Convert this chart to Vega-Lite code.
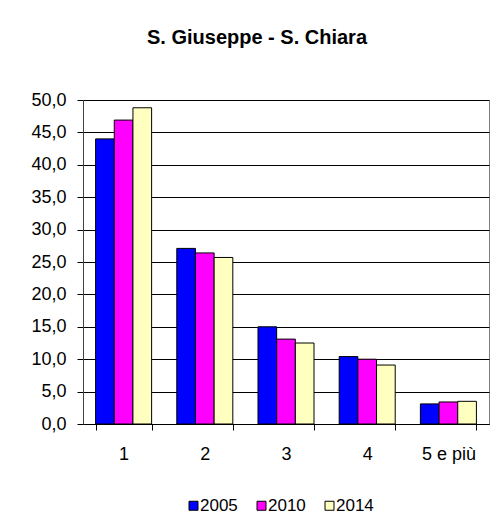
{
  "$schema": "https://vega.github.io/schema/vega-lite/v6.json",
  "autosize": {"type": "none"},
  "width": 406,
  "height": 324,
  "padding": {"left": 83, "top": 100, "right": 10, "bottom": 99},
  "background": "white",
  "title": {
    "text": "S. Giuseppe - S. Chiara",
    "font": "Liberation Sans",
    "fontSize": 20,
    "fontWeight": "bold",
    "color": "black",
    "anchor": "middle",
    "dx": -29,
    "offset": 43
  },
  "data": {
    "values": [
      {"cat": "1", "year": "2005", "value": 44.0},
      {"cat": "1", "year": "2010", "value": 46.9},
      {"cat": "1", "year": "2014", "value": 48.8},
      {"cat": "2", "year": "2005", "value": 27.1},
      {"cat": "2", "year": "2010", "value": 26.4},
      {"cat": "2", "year": "2014", "value": 25.7},
      {"cat": "3", "year": "2005", "value": 15.0},
      {"cat": "3", "year": "2010", "value": 13.1},
      {"cat": "3", "year": "2014", "value": 12.5},
      {"cat": "4", "year": "2005", "value": 10.4},
      {"cat": "4", "year": "2010", "value": 10.0},
      {"cat": "4", "year": "2014", "value": 9.1},
      {"cat": "5 e più", "year": "2005", "value": 3.1},
      {"cat": "5 e più", "year": "2010", "value": 3.4},
      {"cat": "5 e più", "year": "2014", "value": 3.5}
    ]
  },
  "mark": {"type": "bar", "stroke": "black", "strokeWidth": 1},
  "encoding": {
    "x": {
      "field": "cat",
      "type": "nominal",
      "sort": null,
      "scale": {"paddingInner": 0.31, "paddingOuter": 0.155},
      "axis": {
        "title": null,
        "labelAngle": 0,
        "tickBand": "extent",
        "tickSize": 6,
        "tickColor": "black",
        "domainColor": "black",
        "labelPadding": 15,
        "grid": false
      }
    },
    "xOffset": {
      "field": "year",
      "type": "nominal",
      "sort": null,
      "scale": {"paddingInner": 0, "paddingOuter": 0}
    },
    "y": {
      "field": "value",
      "type": "quantitative",
      "scale": {"domain": [0, 50], "nice": false},
      "axis": {
        "title": null,
        "values": [0, 5, 10, 15, 20, 25, 30, 35, 40, 45, 50],
        "labelExpr": "replace(format(datum.value, '.1f'), '.', ',')",
        "tickSize": 6,
        "tickColor": "black",
        "domainColor": "#404040",
        "labelPadding": 11,
        "grid": true,
        "gridColor": "black",
        "gridWidth": 1,
        "gridOpacity": 1
      }
    },
    "color": {
      "field": "year",
      "type": "nominal",
      "sort": null,
      "scale": {"domain": ["2005", "2010", "2014"], "range": ["#0000FF", "#FF00FF", "#FFFFC0"]},
      "legend": {
        "title": null,
        "orient": "none",
        "legendX": 102,
        "legendY": 397,
        "direction": "horizontal",
        "padding": 0,
        "symbolType": "square",
        "symbolSize": 81,
        "symbolStrokeColor": "black",
        "symbolStrokeWidth": 1,
        "symbolOpacity": 1,
        "labelFont": "Liberation Sans",
        "labelFontSize": 17,
        "labelColor": "black",
        "labelOffset": -2,
        "columnPadding": 15
      }
    }
  },
  "config": {
    "view": {"stroke": "#808080", "strokeWidth": 1},
    "axis": {
      "labelFont": "Liberation Sans",
      "labelFontSize": 18,
      "labelColor": "black"
    }
  }
}
